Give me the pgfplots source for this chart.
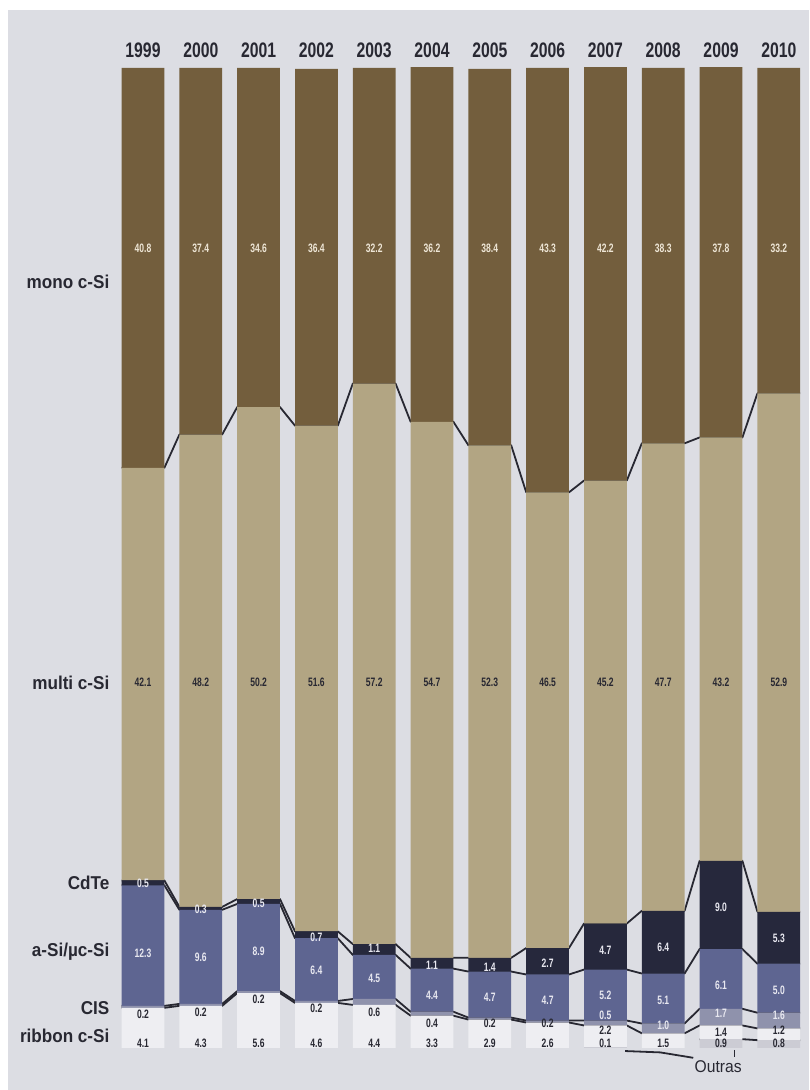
\documentclass[border=0pt]{standalone}
\usepackage{fontspec}
\setmainfont{Liberation Sans}
\newfontfamily\yearfont[FakeStretch=0.75]{Liberation Sans}
\newfontfamily\catfont[FakeStretch=0.92]{Liberation Sans}
\newfontfamily\valfont[FakeStretch=0.70]{Liberation Sans}
\usepackage{pgfplots}
\usepackage{pgfplotstable}
\pgfplotsset{compat=1.18}

\definecolor{panel}{RGB}{220,221,227}
\definecolor{mono}{RGB}{115,94,61}
\definecolor{multi}{RGB}{178,165,131}
\definecolor{cdte}{RGB}{38,40,60}
\definecolor{asi}{RGB}{94,101,145}
\definecolor{cis}{RGB}{143,146,172}
\definecolor{ribbon}{RGB}{238,238,242}
\definecolor{outras}{RGB}{204,204,212}
\definecolor{ink}{RGB}{40,40,50}
\definecolor{lightink}{RGB}{232,232,240}
\definecolor{monoink}{RGB}{238,230,214}

% market shares (%) per technology; p* = vertical position of the value label
\pgfplotstableread{
x  O   R   CIS aSi  CdTe multi mono pO   pR   pCIS paSi pCdTe
0  0   4.1 0.2 12.3 0.5  42.1  40.8 nan  0.51 3.47 9.69 16.84
1  0   4.3 0.2 9.6  0.3  48.2  37.4 nan  0.51 3.67 9.29 14.18
2  0   5.6 0.2 8.9  0.5  50.2  34.6 nan  0.51 5.00 9.90 14.80
3  0   4.6 0.2 6.4  0.7  51.6  36.4 nan  0.51 4.00 7.96 11.33
4  0   4.4 0.6 4.5  1.1  57.2  32.2 nan  0.51 3.67 7.14 10.20
5  0   3.3 0.4 4.4  1.1  54.7  36.2 nan  0.51 2.55 5.41 8.47
6  0   2.9 0.2 4.7  1.4  52.3  38.4 nan  0.51 2.55 5.20 8.27
7  0   2.6 0.2 4.7  2.7  46.5  43.3 nan  0.51 2.55 4.90 8.67
8  0.1 2.2 0.5 5.2  4.7  45.2  42.2 0.51 1.84 3.37 5.41 10.00
9  0   1.5 1.0 5.1  6.4  47.7  38.3 nan  0.51 2.35 4.90 10.30
10 0.9 1.4 1.7 6.1  9.0  43.2  37.8 0.51 1.63 3.57 6.43 14.39
11 0.8 1.2 1.6 5.0  5.3  52.9  33.2 0.51 1.84 3.37 5.92 11.22
}\shares

% cumulative stack boundaries at the left and right edge of every bar
\pgfplotstableread{
x     b1  b2  b3  b4   b5   b6
-0.37 0   4.1 4.3 16.6 17.1 59.2
0.37  0   4.1 4.3 16.6 17.1 59.2
0.63  0   4.3 4.5 14.1 14.4 62.6
1.37  0   4.3 4.5 14.1 14.4 62.6
1.63  0   5.6 5.8 14.7 15.2 65.4
2.37  0   5.6 5.8 14.7 15.2 65.4
2.63  0   4.6 4.8 11.2 11.9 63.5
3.37  0   4.6 4.8 11.2 11.9 63.5
3.63  0   4.4 5.0 9.5  10.6 67.8
4.37  0   4.4 5.0 9.5  10.6 67.8
4.63  0   3.3 3.7 8.1  9.2  63.9
5.37  0   3.3 3.7 8.1  9.2  63.9
5.63  0   2.9 3.1 7.8  9.2  61.5
6.37  0   2.9 3.1 7.8  9.2  61.5
6.63  0   2.6 2.8 7.5  10.2 56.7
7.37  0   2.6 2.8 7.5  10.2 56.7
7.63  0.1 2.3 2.8 8.0  12.7 57.9
8.37  0.1 2.3 2.8 8.0  12.7 57.9
8.63  0   1.5 2.5 7.6  14.0 61.7
9.37  0   1.5 2.5 7.6  14.0 61.7
9.63  0.9 2.3 4.0 10.1 19.1 62.3
10.37 0.9 2.3 4.0 10.1 19.1 62.3
10.63 0.8 2.0 3.6 8.6  13.9 66.8
11.37 0.8 2.0 3.6 8.6  13.9 66.8
}\levels

\pgfplotsset{
  frame/.style={
    scale only axis, width=346.8pt, height=490pt,
    xmin=-0.5, xmax=11.5, ymin=0, ymax=100,
    hide axis, clip=false,
    at={(57.05pt,21pt)}, anchor=south west,
  },
  link/.style={ink, line width=0.9pt, line join=round, mark=none},
  seg/.style={fill=#1, draw=none},
  val/.style={draw=none, mark=none, nodes near coords,
    point meta=explicit symbolic,
    every node near coord/.append style={anchor=center, inner sep=0pt,
      font=\valfont\bfseries\fontsize{6.1}{7}\selectfont, text=#1}},
}

\begin{document}
\begin{tikzpicture}
\fill[white] (0,0) rectangle (404.5pt,545pt);
\fill[panel] (4pt,0) rectangle (404.5pt,540pt);

% connecting lines between the bars (bar bodies are drawn over them)
\begin{axis}[frame]
\addplot[link, restrict x to domain=9.5:11.5] table[x=x,y=b1]{\levels};
\addplot[link] table[x=x,y=b2]{\levels};
\addplot[link] table[x=x,y=b3]{\levels};
\addplot[link] table[x=x,y=b4]{\levels};
\addplot[link] table[x=x,y=b5]{\levels};
\addplot[link] table[x=x,y=b6]{\levels};
\end{axis}

% stacked bars
\begin{axis}[frame, ybar stacked, bar width=0.74]
\addplot[seg=outras] table[x=x,y=O]{\shares};
\addplot[seg=ribbon] table[x=x,y=R]{\shares};
\addplot[seg=cis]    table[x=x,y=CIS]{\shares};
\addplot[seg=asi]    table[x=x,y=aSi]{\shares};
\addplot[seg=cdte]   table[x=x,y=CdTe]{\shares};
\addplot[seg=multi]  table[x=x,y=multi]{\shares};
\addplot[seg=mono]   table[x=x,y=mono]{\shares};
\end{axis}

% values, years and category names
\begin{axis}[frame]
\addplot[val=monoink]  table[x=x,y expr=81.6,meta=mono]{\shares};
\addplot[val=ink]      table[x=x,y expr=37.35,meta=multi]{\shares};
\addplot[val=lightink] table[x=x,y=pCdTe,meta=CdTe]{\shares};
\addplot[val=lightink] table[x=x,y=paSi,meta=aSi]{\shares};
\addplot[val=ink, restrict x to domain=-1:7.5] table[x=x,y=pCIS,meta=CIS]{\shares};
\addplot[val=lightink, restrict x to domain=7.5:12] table[x=x,y=pCIS,meta=CIS]{\shares};
\addplot[val=ink]      table[x=x,y=pR,meta=R]{\shares};
\addplot[val=ink]      table[x=x,y=pO,meta=O]{\shares};

\pgfplotsinvokeforeach{0,...,11}{
  \node[font=\yearfont\bfseries\fontsize{10.5}{12}\selectfont, text=ink]
    at (axis cs:#1,101.8) {\pgfmathparse{int(1999+#1)}\pgfmathresult};
}

\begin{scope}[every node/.style={anchor=east, inner sep=0pt, text=ink,
    font=\catfont\bfseries\fontsize{9.3}{11}\selectfont}]
\node at (axis cs:-0.575,78.2) {mono c-Si};
\node at (axis cs:-0.575,37.3) {multi c-Si};
\node at (axis cs:-0.575,16.9) {CdTe};
\node at (axis cs:-0.575,9.8)  {a-Si/µc-Si};
\node at (axis cs:-0.575,4.1)  {CIS};
\node at (axis cs:-0.575,1.2)  {ribbon c-Si};
\end{scope}

% callout for the "other" technologies
\draw[ink, line width=0.9pt] (axis cs:8.34,-0.31) -- (axis cs:8.95,-0.45) -- (axis cs:9.52,-1.0);
\draw[ink, line width=0.7pt] (axis cs:10.23,-0.2) -- (axis cs:10.23,-0.9);
\node[font=\catfont\fontsize{8.5}{10}\selectfont, text=ink] at (axis cs:9.95,-1.94) {Outras};
\end{axis}
\end{tikzpicture}
\end{document}
